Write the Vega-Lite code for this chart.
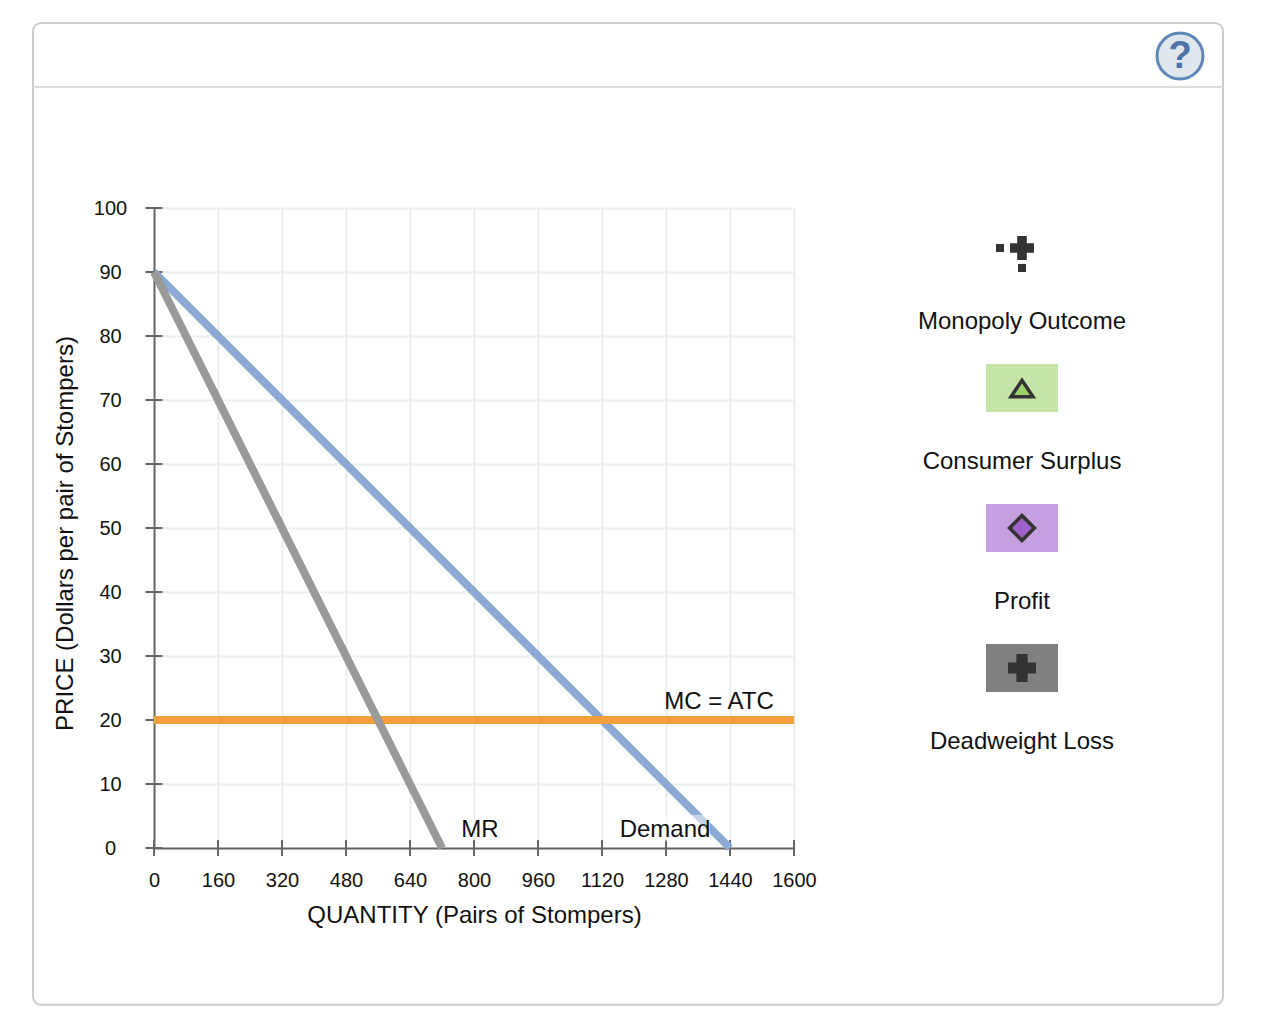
{
  "$schema": "https://vega.github.io/schema/vega-lite/v6.json",
  "width": 640,
  "height": 640,
  "autosize": "none",
  "padding": {"left": 154, "top": 208, "right": 488, "bottom": 180},
  "background": "#ffffff",
  "config": {"view": {"stroke": null}, "font": "Liberation Sans"},
  "encoding": {
    "x": {"field": "x", "type": "quantitative", "scale": {"domain": [0, 1600], "nice": false, "zero": false},
      "axis": {"values": [0,160,320,480,640,800,960,1120,1280,1440,1600], "format": "d", "title": "QUANTITY (Pairs of Stompers)", "titleFont": "Liberation Sans", "titleFontSize": 24, "titleFontWeight": "normal", "titleColor": "#111111", "titleX": 320, "titleY": 67, "titleBaseline": "middle", "labelFont": "Liberation Sans", "labelFontSize": 20, "labelColor": "#111111", "labelPadding": 32, "labelBaseline": "middle", "labelOverlap": false, "labelFlush": false, "ticks": false, "tickSize": 0, "domainColor": "#666666", "domainWidth": 2, "grid": true, "gridColor": "#eeeeee", "gridWidth": 2}},
    "y": {"field": "y", "type": "quantitative", "scale": {"domain": [0, 100], "nice": false, "zero": false},
      "axis": {"values": [0,10,20,30,40,50,60,70,80,90,100], "format": "d", "title": "PRICE (Dollars per pair of Stompers)", "titleFont": "Liberation Sans", "titleFontSize": 24, "titleFontWeight": "normal", "titleColor": "#111111", "titleX": -89, "titleY": 325, "titleBaseline": "middle", "labelFont": "Liberation Sans", "labelFontSize": 20, "labelColor": "#111111", "labelPadding": 44, "labelAlign": "center", "labelBaseline": "middle", "labelOverlap": false, "ticks": false, "tickSize": 0, "domainColor": "#666666", "domainWidth": 2, "grid": true, "gridColor": "#eeeeee", "gridWidth": 2}}
  },
  "layer": [
    {"data": {"values": [{"x": -302.5, "x2": 2672.5, "y": 128.9, "y2": -24.5}]},
     "mark": {"type": "rect", "filled": false, "stroke": "#cccccc", "strokeWidth": 2, "cornerRadius": 8},
     "encoding": {"x2": {"field": "x2"}, "y2": {"field": "y2"}}},
    {"data": {"values": [{"x": -302.5, "x2": 2672.5, "y": 118.9}]},
     "mark": {"type": "rule", "stroke": "#dddddd", "strokeWidth": 2},
     "encoding": {"x2": {"field": "x2"}}},
    {"data": {"values": [{"x":0,"y":0},{"x":160,"y":0},{"x":320,"y":0},{"x":480,"y":0},{"x":640,"y":0},{"x":800,"y":0},{"x":960,"y":0},{"x":1120,"y":0},{"x":1280,"y":0},{"x":1440,"y":0},{"x":1600,"y":0}]},
     "mark": {"type": "tick", "orient": "vertical", "size": 16, "thickness": 2, "color": "#666666", "opacity": 1}},
    {"data": {"values": [{"x":0,"y":0},{"x":0,"y":10},{"x":0,"y":20},{"x":0,"y":30},{"x":0,"y":40},{"x":0,"y":50},{"x":0,"y":60},{"x":0,"y":70},{"x":0,"y":80},{"x":0,"y":90},{"x":0,"y":100}]},
     "mark": {"type": "tick", "orient": "horizontal", "size": 17, "thickness": 2, "color": "#666666", "opacity": 1}},
    {"data": {"values": [{"x": 0, "y": 90}, {"x": 1440, "y": 0}]},
     "mark": {"type": "line", "stroke": "#8aa9d3", "strokeWidth": 8}},
    {"data": {"values": [{"x": 0, "y": 20}, {"x": 1600, "y": 20}]},
     "mark": {"type": "line", "stroke": "#f3a03a", "strokeWidth": 8}},
    {"data": {"values": [{"x": 0, "y": 90}, {"x": 720, "y": 0}]},
     "mark": {"type": "line", "stroke": "#999999", "strokeWidth": 8}},
    {"data": {"values": [{"x": 1165, "x2": 1390, "y": 5.2, "y2": 1.0}]},
     "mark": {"type": "rect", "fill": "#ffffff", "opacity": 0.5},
     "encoding": {"x2": {"field": "x2"}, "y2": {"field": "y2"}}},
    {"data": {"values": [
        {"x": 2080, "x2": 2260, "y": 75.625, "y2": 68.125, "c": "Consumer Surplus"},
        {"x": 2080, "x2": 2260, "y": 53.75, "y2": 46.25, "c": "Profit"},
        {"x": 2080, "x2": 2260, "y": 31.875, "y2": 24.375, "c": "Deadweight Loss"}]},
     "mark": {"type": "rect"},
     "encoding": {"x2": {"field": "x2"}, "y2": {"field": "y2"},
       "fill": {"field": "c", "type": "nominal", "legend": null, "scale": {"domain": ["Consumer Surplus", "Profit", "Deadweight Loss"], "range": ["#c5e5a8", "#c4a0e0", "#808080"]}}}},
    {"data": {"values": [{"x": 2170, "y": 93.75}]},
     "mark": {"type": "point", "shape": "cross", "filled": true, "fill": "#333333", "stroke": null, "size": 576, "opacity": 1}},
    {"data": {"values": [{"x": 2170, "y": 28.125}]},
     "mark": {"type": "point", "shape": "cross", "filled": true, "fill": "#333333", "stroke": null, "size": 784, "opacity": 1}},
    {"data": {"values": [{"x": 2115, "y": 93.75}, {"x": 2170, "y": 90.625}]},
     "mark": {"type": "point", "shape": "square", "filled": true, "fill": "#333333", "stroke": null, "size": 64, "opacity": 1}},
    {"data": {"values": [{"x": 2170, "y": 71.875}]},
     "mark": {"type": "point", "shape": "M-1,0.8L1,0.8L0,-0.7Z", "filled": true, "fill": "#9ad46f", "stroke": "#333333", "strokeWidth": 3.5, "size": 484, "opacity": 1}},
    {"data": {"values": [{"x": 2170, "y": 50}]},
     "mark": {"type": "point", "shape": "diamond", "filled": true, "fill": "#a060cc", "stroke": "#333333", "strokeWidth": 3.5, "size": 620, "opacity": 1}},
    {"data": {"values": [{"x": 2565, "y": 123.75}]},
     "mark": {"type": "point", "shape": "circle", "filled": true, "fill": "#dfe6ee", "stroke": "#5f86b5", "strokeWidth": 3, "size": 2116, "opacity": 1}},
    {"data": {"values": [{"x": 2565, "y": 123.75, "t": "?"}]},
     "mark": {"type": "text", "font": "Liberation Sans", "fontWeight": "bold", "fontSize": 38, "color": "#4d74a6", "align": "center", "baseline": "middle", "dy": 1},
     "encoding": {"text": {"field": "t"}}},
    {"data": {"values": [
        {"x": 2170, "y": 82.19, "t": "Monopoly Outcome"},
        {"x": 2170, "y": 60.31, "t": "Consumer Surplus"},
        {"x": 2170, "y": 38.44, "t": "Profit"},
        {"x": 2170, "y": 16.56, "t": "Deadweight Loss"},
        {"x": 1412.5, "y": 22.81, "t": "MC = ATC"},
        {"x": 815, "y": 2.81, "t": "MR"},
        {"x": 1277.5, "y": 2.81, "t": "Demand"}]},
     "mark": {"type": "text", "font": "Liberation Sans", "fontSize": 24, "color": "#111111", "align": "center", "baseline": "middle"},
     "encoding": {"text": {"field": "t"}}}
  ]
}
